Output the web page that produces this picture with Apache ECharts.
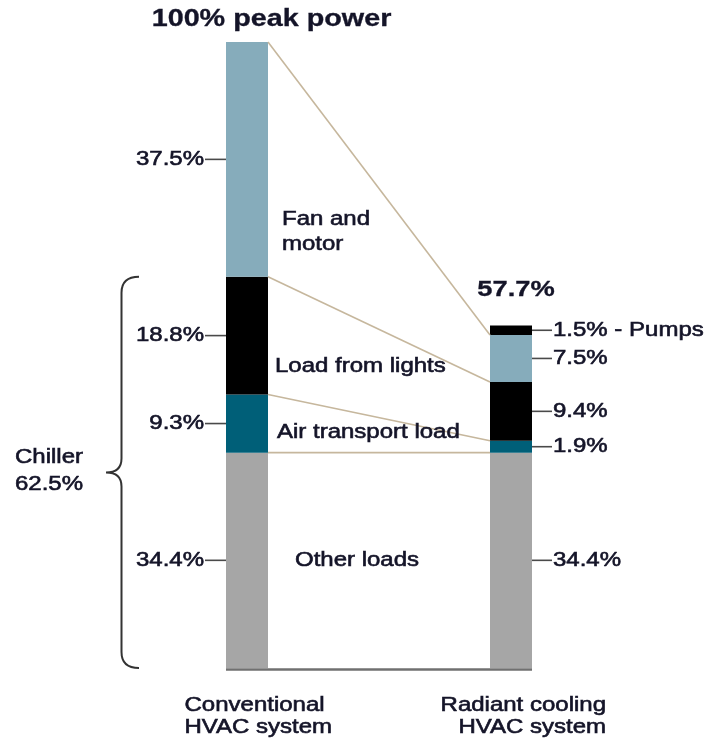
<!DOCTYPE html>
<html>
<head>
<meta charset="utf-8">
<script src="https://cdn.jsdelivr.net/npm/echarts@6/dist/echarts.min.js"></script>
<style>
  html, body { margin: 0; padding: 0; background: #ffffff; }
  #chart { width: 710px; height: 742px; }
</style>
</head>
<body>
<div id="chart"></div>
<script>
// Peak power breakdown of two HVAC systems (percent of conventional peak)
const systems = ['Conventional\nHVAC system', 'Radiant cooling\nHVAC system'];
const otherLoads   = [34.4, 34.4];
const airTransport = [9.3, 1.9];
const lightsLoad   = [18.8, 9.4];
const fanMotor     = [37.5, 7.5];
const pumps        = [0, 1.5];
const peakLabels   = ['100% peak power', '57.7%'];
const peakValues   = [100, 57.7];
const segmentNames = ['Other loads', 'Air transport load', 'Load from lights', 'Fan and\nmotor', 'Pumps'];
const segmentColors = ['#a6a6a6', '#005f78', '#000000', '#86acbb', '#000000'];

const segments = [otherLoads, airTransport, lightsLoad, fanMotor, pumps];
const BAR_W = 42;
const FONT = '"Liberation Sans", Arial, Helvetica, sans-serif';
const TEXT_COLOR = '#141428';

function fmt(v) { return (Math.round(v * 10) / 10).toFixed(1).replace(/\.0$/, '') + '%'; }

function text(x, y, s, o) {
  o = o || {};
  return {
    type: 'text', x: x, y: y, scaleX: o.sx || 1.2,
    style: {
      text: s, align: o.align || 'left', verticalAlign: 'middle',
      fontFamily: FONT, fontSize: o.size || 20, fontWeight: o.bold ? 'bold' : 'normal',
      lineHeight: o.lh || 24, fill: o.color || TEXT_COLOR,
      stroke: o.color || TEXT_COLOR, lineWidth: o.bold ? 0.3 : 0.6
    }
  };
}
function seg(x1, y1, x2, y2, color, w) {
  return { type: 'line', shape: { x1: x1, y1: y1, x2: x2, y2: y2 },
           style: { stroke: color, lineWidth: w || 1.5 } };
}

// cumulative boundaries of the stacked segments for system i
function cumulative(i) {
  const out = [0];
  segments.forEach(function (arr) { out.push(out[out.length - 1] + arr[i]); });
  return out;
}

function renderAnnotations(params, api) {
  const kids = [];
  const c0 = cumulative(0), c1 = cumulative(1);
  const cx0 = api.coord([0, 0])[0], cx1 = api.coord([1, 0])[0];
  const y = function (v) { return api.coord([0, v])[1]; };
  const l0 = cx0 - BAR_W / 2, r0 = cx0 + BAR_W / 2;
  const l1 = cx1 - BAR_W / 2, r1 = cx1 + BAR_W / 2;

  // connectors between matching segment tops
  [3, 2, 1, 0].forEach(function (k) {
    kids.push(seg(r0, y(c0[k + 1]), l1, y(c1[k + 1]), '#c6b79d', 1.6));
  });

  // baseline under both bars
  kids.push(seg(l0, y(0) + 1.5, r1, y(0) + 1.5, '#707070', 2.4));

  // left value labels with ticks
  for (let k = 0; k < 4; k++) {
    const ym = y((c0[k] + c0[k + 1]) / 2);
    kids.push(seg(l0 - 21, ym, l0, ym, '#4a4a4a', 1.6));
    kids.push(text(l0 - 22, ym, fmt(segments[k][0]), { align: 'right' }));
  }

  // right value labels with ticks
  for (let k = 0; k < 5; k++) {
    const ym = y((c1[k] + c1[k + 1]) / 2);
    kids.push(seg(r1, ym, r1 + 20, ym, '#4a4a4a', 1.6));
    const s = fmt(segments[k][1]) + (k === 4 ? ' - ' + segmentNames[4] : '');
    kids.push(text(r1 + 21, ym, s));
  }

  // segment names next to the conventional bar
  kids.push(text(r0 + 27, y((c0[0] + c0[1]) / 2), segmentNames[0]));
  kids.push(text(r0 + 9, y(c0[1]) - 20, segmentNames[1]));
  kids.push(text(r0 + 7, y(c0[2]) - 28, segmentNames[2]));
  kids.push(text(r0 + 14, y(c0[3]) - 45, segmentNames[3], { lh: 25 }));

  // peak labels
  kids.push(text(cx0 + 24.5, y(peakValues[0]) - 22, peakLabels[0], { align: 'center', bold: true, size: 23, sx: 1.25 }));
  kids.push(text(cx1 + 5, y(peakValues[1]) - 17, peakLabels[1], { align: 'center', bold: true, size: 22, sx: 1.24 }));

  // chiller brace spanning the three chiller loads
  const chillerTop = c0[3];
  const yt = y(chillerTop), yb = y(0), ym = (yt + yb) / 2;
  const xv = l0 - 104.5, xp = l0 - 120, xe = l0 - 87;
  const path = 'M' + xe + ',' + yt + ' Q' + xv + ',' + yt + ' ' + xv + ',' + (yt + 16) +
    ' L' + xv + ',' + (ym - 14) + ' Q' + xv + ',' + ym + ' ' + xp + ',' + ym +
    ' Q' + xv + ',' + ym + ' ' + xv + ',' + (ym + 14) +
    ' L' + xv + ',' + (yb - 16) + ' Q' + xv + ',' + yb + ' ' + xe + ',' + yb;
  kids.push({ type: 'path', shape: { pathData: path },
              style: { stroke: '#333333', lineWidth: 2, fill: null } });
  kids.push(text(15, ym - 1, 'Chiller\n' + fmt(chillerTop), { lh: 27 }));

  // system names under the bars
  kids.push(text(cx0 - 62.5, y(0) + 48, systems[0], { lh: 22 }));
  kids.push(text(cx1 + 95, y(0) + 48, systems[1], { align: 'right', lh: 22 }));

  return { type: 'group', children: kids };
}

const chart = echarts.init(document.getElementById('chart'), null, { renderer: 'canvas' });

const barSeries = segments.map(function (arr, k) {
  return {
    type: 'bar', name: segmentNames[k], stack: 'total', barWidth: BAR_W,
    data: arr, itemStyle: { color: segmentColors[k], borderWidth: 0 },
    silent: true, animation: false
  };
});

chart.setOption({
  animation: false,
  grid: { left: 115, right: 67, top: 42, bottom: 74 },
  xAxis: { type: 'category', data: systems, show: false },
  yAxis: { type: 'value', min: 0, max: 100, show: false },
  series: barSeries.concat([{
    type: 'custom', data: [[0, 0]], renderItem: renderAnnotations,
    silent: true, z: 10, clip: false, animation: false
  }])
});
</script>
</body>
</html>
